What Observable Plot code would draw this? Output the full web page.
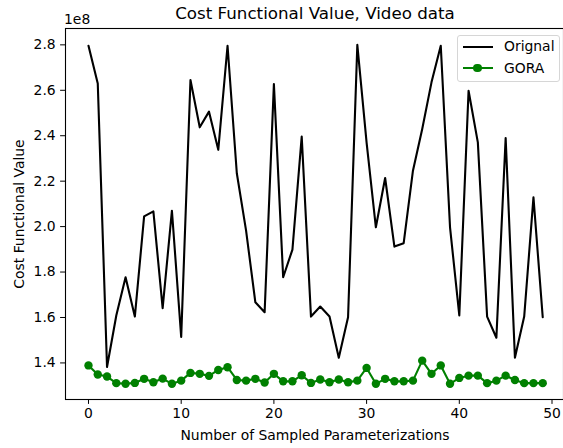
<!DOCTYPE html>
<html><head><meta charset="utf-8">
<script src="https://cdn.jsdelivr.net/npm/d3@7"></script>
<script src="https://cdn.jsdelivr.net/npm/@observablehq/plot@0.6"></script>
<style>
body{margin:0;background:#fff;}
#chart{position:relative;width:563px;height:448px;overflow:hidden;font-family:"DejaVu Sans",sans-serif;color:#000;}
.t{position:absolute;white-space:nowrap;line-height:1;}
#legend{position:absolute;left:456.5px;top:35px;width:101px;height:45px;border:1px solid #d6d6d6;border-radius:3px;background:rgba(255,255,255,0.8);}
.sw{position:absolute;left:5px;width:30px;height:2px;}
.dotsw{position:absolute;width:8.4px;height:8.4px;border-radius:50%;background:#008000;}
.lt{position:absolute;left:46.5px;font-size:13.9px;line-height:1;}
</style></head><body><div id="chart"></div>
<script>
// values in units of 1e8
const originalCost = [2.796, 2.630, 1.382, 1.609, 1.777, 1.604, 2.045, 2.067, 1.641, 2.070,
  1.514, 2.645, 2.437, 2.506, 2.338, 2.796, 2.235, 1.982, 1.667, 1.623,
  2.627, 1.777, 1.899, 2.396, 1.604, 1.648, 1.604, 1.423, 1.601, 2.800,
  2.370, 1.997, 2.214, 1.912, 1.927, 2.246, 2.430, 2.635, 2.796, 1.997,
  1.609, 2.598, 2.371, 1.604, 1.511, 2.390, 1.423, 1.604, 2.129, 1.601];
const goraCost = [1.389, 1.349, 1.340, 1.311, 1.308, 1.312, 1.330, 1.315, 1.331, 1.308,
  1.322, 1.356, 1.352, 1.343, 1.369, 1.381, 1.325, 1.322, 1.330, 1.314,
  1.352, 1.319, 1.319, 1.346, 1.312, 1.327, 1.315, 1.327, 1.315, 1.322,
  1.378, 1.308, 1.330, 1.319, 1.319, 1.322, 1.410, 1.352, 1.389, 1.308,
  1.334, 1.344, 1.344, 1.311, 1.322, 1.344, 1.325, 1.311, 1.311, 1.311];
const xTicks = [0, 10, 20, 30, 40, 50];
const yTicks = [1.4, 1.6, 1.8, 2.0, 2.2, 2.4, 2.6, 2.8];
const seriesNames = ["Orignal", "GORA"];
const titleText = "Cost Functional Value, Video data";
const xLabel = "Number of Sampled Parameterizations";
const yLabel = "Cost Functional Value";
const scaleLabel = "1e8";

const orig = originalCost.map((v, i) => ({i, v}));
const gora = goraCost.map((v, i) => ({i, v}));

const chart = Plot.plot({
  width: 563, height: 448,
  marginLeft: 65, marginRight: 0, marginTop: 28, marginBottom: 49,
  style: {fontFamily: "DejaVu Sans, sans-serif", fontSize: "13.9px", color: "#000", background: "#fff"},
  x: {domain: [-2.48, 51.24]},
  y: {domain: [1.239, 2.872]},
  marks: [
    Plot.axisX({ticks: xTicks, tickSize: 4.9, tickPadding: 3.5, label: null, fontSize: 13.9}),
    Plot.axisY({ticks: yTicks, tickSize: 4.9, tickPadding: 4.9, tickFormat: d3.format(".1f"), label: null, fontSize: 13.9}),
    Plot.line(orig, {x: "i", y: "v", stroke: "black", strokeWidth: 2.1}),
    Plot.line(gora, {x: "i", y: "v", stroke: "#008000", strokeWidth: 2.1}),
    Plot.dot(gora, {x: "i", y: "v", fill: "#008000", r: 4.2, stroke: "none"}),
    Plot.frame({stroke: "black", strokeWidth: 1.1})
  ]
});
const root = document.getElementById("chart");
root.appendChild(chart);

function addText(txt, css) {
  const d = document.createElement("div");
  d.className = "t";
  d.textContent = txt;
  Object.assign(d.style, css);
  root.appendChild(d);
  return d;
}
addText(titleText, {left: "315px", top: "5px", fontSize: "16.7px", transform: "translateX(-50%)"});
addText(scaleLabel, {left: "64px", top: "13px", fontSize: "13.9px"});
addText(xLabel, {left: "315px", top: "429px", fontSize: "13.9px", transform: "translateX(-50%)"});
addText(yLabel, {left: "20px", top: "213.5px", fontSize: "13.9px", transform: "translate(-50%,-50%) rotate(-90deg)"});

const lg = document.createElement("div");
lg.id = "legend";
lg.innerHTML =
  `<div class="sw" style="top:9.7px;background:#000"></div>` +
  `<div class="lt" style="top:4px">${seriesNames[0]}</div>` +
  `<div class="sw" style="top:31.3px;background:#008000"></div>` +
  `<div class="dotsw" style="left:15.8px;top:28.1px"></div>` +
  `<div class="lt" style="top:25.6px">${seriesNames[1]}</div>`;
root.appendChild(lg);
</script></body></html>
